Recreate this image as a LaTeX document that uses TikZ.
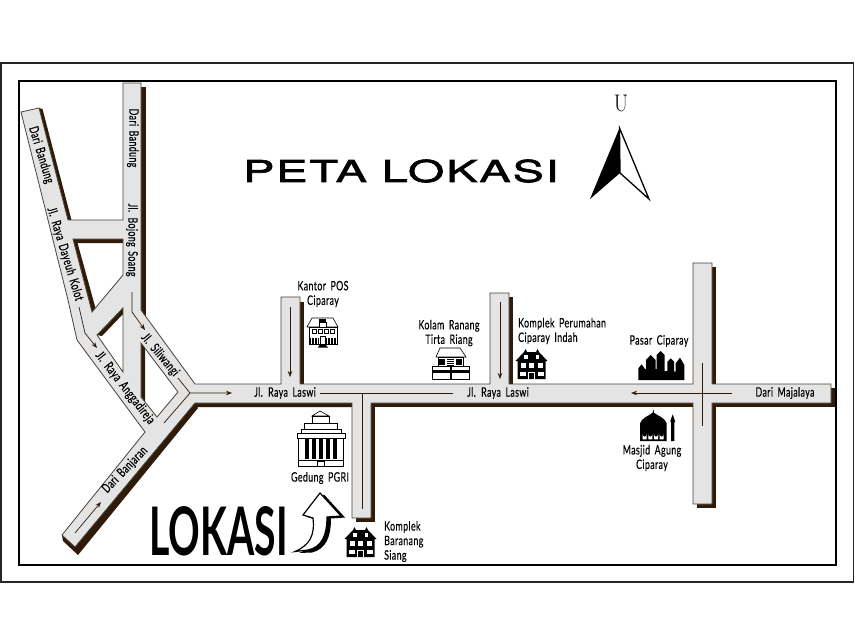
\documentclass[tikz,border=0pt]{standalone}
\usepackage{fontspec}
\usepackage{tikz}
\usetikzlibrary{arrows.meta,calc}
\newfontfamily\roadfont[FakeStretch=0.68,WordSpace=1.7,LetterSpace=3,FakeBold=0.35]{Lato}
\newfontfamily\bigfont[FakeStretch=0.585]{Lato}
\newfontfamily\widefont[FakeStretch=1.56,LetterSpace=6.5,FakeBold=2.2]{TeX Gyre Heros}
\definecolor{roadgray}{HTML}{E4E4E4}
\definecolor{roadline}{HTML}{4A4034}
\definecolor{roadshadow}{HTML}{2E1B0A}
\tikzset{
  road/.style={fill=roadgray,draw=roadline,line width=0.8pt,even odd rule,line join=miter},
  shadowpart/.style={fill=roadshadow},
  midline/.style={draw=roadshadow,line width=0.7pt},
  midarrow/.style={midline,-{Stealth[length=6pt,width=4.5pt]}},
  label/.style={font=\roadfont\fontsize{13}{14.5}\selectfont,text=black,inner sep=0pt,align=center},
  leftlabel/.style={label,align=left,anchor=west},
  thinblack/.style={draw=black,line width=0.6pt,fill=white},
}
% black house, 32 wide and 30 high
\newcommand{\blackhouse}[1]{
\begin{scope}[shift={#1}]
\fill (0,12) -- (8.5,3) -- (10,0) -- (11.5,3) -- (20.5,3) -- (22,0) -- (23.5,3) -- (32,12) -- (30,12) -- (30,30) -- (2,30) -- (2,12) -- cycle;
\fill[white] (8.5,6) rectangle (12,10);
\fill[white] (20,6) rectangle (23.5,10);
\fill[white] (5,14) rectangle (10,19);
\fill[white] (13.5,14) rectangle (18.5,19);
\fill[white] (22,14) rectangle (27,19);
\fill[white] (4,23) rectangle (10,27);
\fill[white] (22,23) rectangle (28,27);
\draw[white,line width=0.6pt] (13,30) -- (13,23) -- (19,23) -- (19,30);
\end{scope}
}
\begin{document}
\begin{tikzpicture}[x=1pt,y=-1pt]
\useasboundingbox (0,0) rectangle (855,630);
% frames
\draw[line width=1.5pt,draw=black!85] (1,63) rectangle (853.5,582);
\draw[line width=2pt] (19,81) rectangle (836,565);
% shadows of the roads
\fill[shadowpart] (141,87) -- (146,87) -- (146,316) -- (141,316) -- cycle;
\fill[shadowpart] (39,108) -- (42.5,109) -- (71.5,220) -- (67,220) -- cycle;
\fill[shadowpart] (73,239) -- (123,239) -- (123,243) -- (77.5,243) -- (95.5,308) -- (92,312) -- cycle;
\fill[shadowpart] (97,335) -- (123,308) -- (123,314) -- (102,336) -- cycle;
\fill[shadowpart] (141,343) -- (145,348) -- (145,402) -- (141,397) -- cycle;
\fill[shadowpart] (62,535) -- (63,541) -- (78,555) -- (198,408) -- (195,403) -- (75,547) -- cycle;
\fill[shadowpart] (195,403) -- (352,403) -- (352,407) -- (197,407) -- cycle;
\fill[shadowpart] (371,403) rectangle (375,522);
\fill[shadowpart] (356,518) rectangle (375,522);
\fill[shadowpart] (371,403) rectangle (693,407);
\fill[shadowpart] (712,403) rectangle (835,407);
\fill[shadowpart] (831,388) rectangle (835,407);
\foreach \xa/\ya/\xb/\yb in {300/302/304/384,509/297/513/384,712/267/716/384,712/403/716/508,697/504/716/508}
  \fill[shadowpart] (\xa,\ya) rectangle (\xb,\yb);
% the roads, with the three blocks left open
\path[road] (123,83) -- (141,83) -- (141,310) -- (195,384) -- (281,384) -- (281,297) -- (300,297) -- (300,384)
  -- (490,384) -- (490,293) -- (509,293) -- (509,384) -- (693,384) -- (693,263) -- (712,263) -- (712,384)
  -- (831,384) -- (831,403) -- (712,403) -- (712,504) -- (693,504) -- (693,403) -- (371,403) -- (371,518)
  -- (352,518) -- (352,403) -- (195,403) -- (75,547) -- (62,535) -- (145,432) -- (77,340) -- (68,300)
  -- (21,112) -- (39,108) -- (68,220) -- (123,220) -- cycle
  (73,239) -- (123,239) -- (123,275) -- (92,312) -- cycle
  (97,335) -- (123,308) -- (123,372) -- cycle
  (141,343) -- (178,392) -- (157,417) -- (141,397) -- cycle;
% lines along the roads
\coordinate (junction) at (190,393);
\coordinate (crossing) at (702,393);
\coordinate (tee) at (362,393);
\draw[midarrow] (79,307) -- (85,333) -- (97,348);
\draw[midarrow] (132,292) -- (132,312) -- (145,330);
\draw[midline] (178,378) -- (junction);
\draw[midarrow] (164,423) -- (junction) -- (232,393);
\draw[midarrow] (75,533) -- (101,502);
\draw[midarrow] (290,307) -- (290,377);
\draw[midarrow] (500,302) -- (500,379);
\draw[midline] (320,393) -- (453,393);
\draw[midline] (tee) -- (362,509);
\draw[midarrow] (732,393) -- (631,393);
\draw[midline] (702,363) -- (702,426);
% road names
\node[label,rotate=-90] (bandungtop) at (133,138) {Dari Bandung};
\node[label,rotate=-90] (bojong) at (132,240) {Jl. Bojong Soang};
\node[label,rotate=-73] (bandungleft) at (41,155) {Dari Bandung};
\node[label,rotate=-73] (dayeuh) at (65,254) {Jl. Raya Dayeuh Kolot};
\node[label,rotate=-52] (anggadireja) at (125,388) {Jl. Raya Anggadireja};
\node[label,rotate=-50] (siliwangi) at (160,355) {Jl. Siliwangi};
\node[label,rotate=46] (banjaran) at (125,470) {Dari Banjaran};
\node[label] (laswileft) at (285,393) {Jl. Raya Laswi};
\node[label] (laswiright) at (498,393) {Jl. Raya Laswi};
\node[label] (majalaya) at (785,393) {Dari Majalaya};
% places
\node[label] (kantor) at (323,294) {Kantor POS\\Ciparay};
\node[label] (kolam) at (449,333) {Kolam Ranang\\Tirta Riang};
\node[leftlabel] (perumahan) at (518,331) {Komplek Perumahan\\Ciparay Indah};
\node[label] (pasar) at (659,341) {Pasar Ciparay};
\node[label] (masjid) at (652,458) {Masjid Agung\\Ciparay};
\node[label] (gedung) at (320,478) {Gedung PGRI};
\node[leftlabel] (baranang) at (384,541.5) {Komplek\\Baranang\\Siang};
% title and compass
\node[inner sep=0pt,font=\widefont\fontsize{30}{30}\selectfont] (title) at (401,171) {PETA LOKASI};
\node[inner sep=0pt,font=\fontsize{24}{24}\selectfont,xscale=.86,transform shape] (north) at (621,103) {U};
\draw[line width=1.3pt,fill=white,line join=miter] (619.5,128) -- (649,199) -- (620,173) -- cycle;
\fill (619.5,128) -- (620,173) -- (590,199) -- cycle;
% big label and its arrow
\node[inner sep=0pt,font=\bigfont\bfseries\fontsize{67}{67}\selectfont] (lokasi) at (218.5,531) {LOKASI};
\fill (324,494.5) -- (345,517.5) -- (331,518.5) .. controls (331,537) and (326,549) .. (312,552.5) -- (299,553) .. controls (314,547) and (319,537) .. (317,520) -- (307,517) -- cycle;
\draw[line width=1.2pt,fill=white,line join=miter] (320,493) -- (341,516) -- (327,517) .. controls (327,535) and (322,547) .. (308,550) -- (295,551.5) .. controls (310,545) and (315,535) .. (313,518) -- (303,515) -- cycle;
% gedung
\draw[thinblack] (312,416) -- (320,411) -- (329,416) -- cycle;
\draw[thinblack] (312,416) rectangle (329,423);
\draw[thinblack] (304,423) rectangle (337,429);
\draw[thinblack] (301,429) rectangle (341,433);
\draw[thinblack] (297,433) rectangle (345,438);
\draw[thinblack] (298.5,438) rectangle (343.5,466);
\foreach \x in {305,312,319,326,333}
  \fill (\x,439) rectangle (\x+3.6,459);
\draw[line width=0.8pt] (298.5,460) -- (343.5,460);
\draw[thinblack] (317,461.5) rectangle (324,466);
% kantor pos
\draw[thinblack] (312,318) -- (333,318) -- (338,327) -- (307,327) -- cycle;
\draw[thinblack] (309,327) rectangle (337,344);
\fill (319,319) rectangle (326,322);
\draw[thinblack] (319,322) rectangle (326,327);
\foreach \x in {312,318,324,330}
  \draw[line width=0.4pt] (\x,329) rectangle (\x+4,333);
\foreach \x in {310.5,312,...,319}
  \draw[line width=0.4pt] (\x,338) -- (\x,344);
\foreach \x in {326.5,328,...,336}
  \draw[line width=0.4pt] (\x,338) -- (\x,344);
\draw[line width=0.4pt] (320,344) -- (320,336) -- (325,336) -- (325,344);
\fill (320,344) -- (325,344) -- (328,347.5) -- (318,347.5) -- cycle;
% kolam
\draw[thinblack] (440,348) -- (460,348) -- (466,357) -- (436,357) -- cycle;
\draw[thinblack] (438,357) rectangle (463,366);
\fill (439,358.5) rectangle (445,365);
\fill (456,358.5) rectangle (462,365);
\foreach \y in {359,361,363,365}
  \draw[line width=0.7pt] (447,\y) -- (454,\y);
\foreach \x/\xe in {432/450,451/469} {
  \draw[thinblack] (\x,366) rectangle (\xe,379);
  \fill (\x,370) rectangle (\xe,372.5);
}
% komplek
\blackhouse{(515.5,349)}
\blackhouse{(344.5,527)}
% pasar
\begin{scope}[shift={(630,345)},scale=1/3]
\fill (25,105) -- (25,70) -- (35,58) -- (45,72) -- (48,72) -- (48,45) -- (62,30) -- (77,45) -- (77,72) -- (80,72)
  -- (80,30) -- (92,18) -- (104,30) -- (104,78) -- (112,78) -- (112,50) -- (122,40) -- (132,50) -- (132,80)
  -- (137,80) -- (137,55) -- (150,38) -- (163,60) -- (163,105) -- cycle;
% masjid
\fill (30,288) -- (30,235) .. controls (35,218) and (58,212) .. (68,203) -- (70,193) -- (72,203) .. controls (82,212) and (105,218) .. (110,235) -- (110,288) -- cycle;
\foreach \x in {38,55,72,89}
  \fill[white] (\x,283) -- (\x,268) arc (180:360:6 and -7) -- (\x+12,283) -- cycle;
\fill (128,208) -- (135,228) -- (134,232) -- (133,232) -- (133,288) -- (123,288) -- (123,232) -- (122,232) -- (121,228) -- cycle;
\end{scope}
\end{tikzpicture}
\end{document}
